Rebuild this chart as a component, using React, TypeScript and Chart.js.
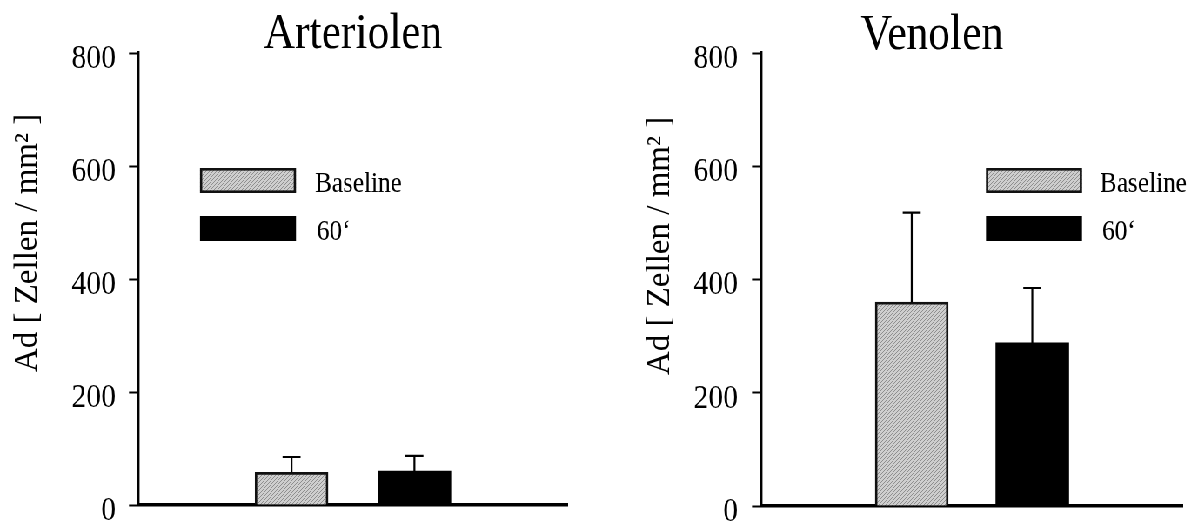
import React, { useEffect, useRef } from "react";
import { Chart, registerables } from "chart.js";

Chart.register(...registerables);

// ---- data ----
const seriesNames = ["Baseline", "60\u2018"];
const barPositions = [1, 2];
const arteriolenMean = [58, 60];
const arteriolenErr = [27, 27];
const venolenMean = [360, 288];
const venolenErr = [158, 97];
const yTickValues = [0, 200, 400, 600, 800];
const panelTitles = ["Arteriolen", "Venolen"];
const yAxisTitle = "Ad [ Zellen / mm\u00B2 ]";

const FONT = "'Liberation Serif', 'Times New Roman', serif";

// the original figure is horizontally condensed; draw wide, then squeeze
const SQUEEZE = 0.87;
const PAGE_W = 1202;
const PAGE_H = 522;
const PANEL_W = Math.round(PAGE_W / 2 / SQUEEZE);
const px = (v: number) => v / SQUEEZE; // page x-distance -> internal x-distance

type PanelCfg = {
  title: string;
  titleShift: number; // page px
  titleBaseline: number;
  means: number[];
  errs: number[];
  pageOffset: number;
  axisLeft: number; // page px
  axisRight: number; // page px
  axisBottom: number; // page px
  labelRight: number; // page px (right edge of tick labels)
  yLabelX: number; // page px
  yLabelY: number;
  legendX: number; // page px
  legendTextX: number; // page px
};

function makePattern(ctx: CanvasRenderingContext2D): CanvasPattern | string {
  const c = document.createElement("canvas");
  c.width = 4;
  c.height = 4;
  const g = c.getContext("2d");
  if (!g) return "#bfbfbf";
  g.fillStyle = "#cecece";
  g.fillRect(0, 0, 4, 4);
  g.fillStyle = "#8e8e8e";
  for (let i = 0; i < 4; i++) g.fillRect(i, 3 - i, 1, 1);
  return ctx.createPattern(c, "repeat") || "#bfbfbf";
}

function Panel({ cfg }: { cfg: PanelCfg }) {
  const ref = useRef<HTMLCanvasElement | null>(null);
  useEffect(() => {
    const canvas = ref.current;
    if (!canvas) return;
    const ctx = canvas.getContext("2d");
    if (!ctx) return;
    const pattern = makePattern(ctx);
    const fills = [pattern, "#000000"];
    const off = px(cfg.pageOffset);
    const axisLeft = px(cfg.axisLeft) - off;
    const axisRight = px(cfg.axisRight) - off;
    const tickLen = px(9);
    const tickPad = axisLeft - tickLen - (px(cfg.labelRight) - off);

    const extras = {
      id: "extras",
      afterDatasetsDraw(chart: any) {
        const c = chart.ctx as CanvasRenderingContext2D;
        const yScale = chart.scales.y;
        c.save();
        c.strokeStyle = "#000";
        c.lineWidth = 2.2;
        chart.data.datasets.forEach((ds: any, i: number) => {
          const meta = chart.getDatasetMeta(i);
          meta.data.forEach((el: any, j: number) => {
            const top = ds.data[j].y + ds.errors[j];
            const yErr = yScale.getPixelForValue(top);
            const x = el.x;
            const hw = px(9);
            c.beginPath();
            c.moveTo(x, el.y);
            c.lineTo(x, yErr);
            c.moveTo(x - hw, yErr);
            c.lineTo(x + hw, yErr);
            c.stroke();
          });
        });
        c.restore();
      },
      afterDraw(chart: any) {
        const c = chart.ctx as CanvasRenderingContext2D;
        const area = chart.chartArea;

        // panel title
        c.save();
        c.font = `50px ${FONT}`;
        c.fillStyle = "#000";
        c.textAlign = "center";
        c.textBaseline = "alphabetic";
        c.fillText(cfg.title, (area.left + area.right) / 2 + px(cfg.titleShift), cfg.titleBaseline);
        c.restore();

        // y axis title (not condensed in the original)
        c.save();
        c.translate(px(cfg.yLabelX) - off, cfg.yLabelY);
        c.scale(1 / SQUEEZE, 1);
        c.rotate(-Math.PI / 2);
        c.font = `33px ${FONT}`;
        c.fillStyle = "#000";
        c.textAlign = "center";
        c.textBaseline = "middle";
        c.fillText(yAxisTitle, 0, 0);
        c.restore();

        // legend
        c.save();
        const bx = px(cfg.legendX) - off;
        const boxW = px(96);
        const boxH = 25;
        const rows = [168, 216];
        rows.forEach((y, i) => {
          c.fillStyle = fills[i] as any;
          c.fillRect(bx, y, boxW, boxH);
          if (i === 0) {
            c.strokeStyle = "#111";
            c.lineWidth = 2.6;
            c.strokeRect(bx + 1.3, y + 1.3, boxW - 2.6, boxH - 2.6);
          }
          c.fillStyle = "#000";
          c.font = `29px ${FONT}`;
          c.textAlign = "left";
          c.textBaseline = "alphabetic";
          c.fillText(seriesNames[i], px(cfg.legendTextX + (i === 1 ? 2 : 0)) - off, y + 24);
        });
        c.restore();
      },
    };

    const chart = new Chart(canvas, {
      type: "bar",
      data: {
        datasets: seriesNames.map((name, i) => ({
          label: name,
          data: [{ x: barPositions[i], y: cfg.means[i] }],
          errors: [cfg.errs[i]],
          backgroundColor: fills[i],
          borderColor: "#111",
          borderWidth: i === 0 ? 2.8 : 0,
          barThickness: px(73),
          grouped: false,
        })) as any,
      },
      options: {
        animation: false,
        responsive: false,
        devicePixelRatio: 1,
        layout: {
          padding: { left: 0, right: PANEL_W - axisRight, top: 53, bottom: PAGE_H - cfg.axisBottom },
        },
        plugins: {
          legend: { display: false },
          tooltip: { enabled: false },
          title: { display: false },
        },
        scales: {
          x: {
            type: "linear",
            min: 0,
            max: 3,
            grid: { display: false },
            ticks: { display: false },
            border: { display: true, width: 3.4, color: "#000" },
            afterFit: (s: any) => {
              s.height = 0;
            },
          },
          y: {
            type: "linear",
            min: 0,
            max: 800,
            afterBuildTicks: (s: any) => {
              s.ticks = yTickValues.map((v) => ({ value: v }));
            },
            grid: {
              display: true,
              drawOnChartArea: false,
              drawTicks: true,
              tickLength: tickLen,
              tickWidth: 2,
              tickColor: "#000",
            },
            border: { display: true, width: 3.4, color: "#000" },
            ticks: {
              color: "#000",
              padding: tickPad,
              labelOffset: 6,
              font: { family: FONT, size: 34 },
            },
            afterFit: (s: any) => {
              s.width = axisLeft;
              s.paddingTop = 0;
              s.paddingBottom = 0;
            },
          },
        },
      },
      plugins: [extras],
    } as any);
    return () => chart.destroy();
  }, [cfg]);
  return (
    <canvas
      ref={ref}
      width={PANEL_W}
      height={PAGE_H}
      style={{ display: "block", width: PANEL_W, height: PAGE_H }}
    />
  );
}

const leftCfg: PanelCfg = {
  title: panelTitles[0],
  titleShift: 0,
  titleBaseline: 48,
  means: arteriolenMean,
  errs: arteriolenErr,
  pageOffset: 0,
  axisLeft: 138,
  axisRight: 568,
  axisBottom: 505,
  labelRight: 116,
  yLabelX: 28,
  yLabelY: 243,
  legendX: 200,
  legendTextX: 315,
};

const rightCfg: PanelCfg = {
  title: panelTitles[1],
  titleShift: -40,
  titleBaseline: 49,
  means: venolenMean,
  errs: venolenErr,
  pageOffset: PANEL_W * SQUEEZE,
  axisLeft: 761,
  axisRight: 1183,
  axisBottom: 506,
  labelRight: 738,
  yLabelX: 660,
  yLabelY: 246,
  legendX: 986,
  legendTextX: 1100,
};

export default function App() {
  useEffect(() => {
    document.body.style.margin = "0";
    document.body.style.background = "#fff";
  }, []);
  return (
    <div style={{ width: PAGE_W, height: PAGE_H, overflow: "hidden", background: "#fff" }}>
      <div
        style={{
          display: "flex",
          width: PANEL_W * 2,
          height: PAGE_H,
          transform: `scaleX(${SQUEEZE})`,
          transformOrigin: "0 0",
        }}
      >
        <Panel cfg={leftCfg} />
        <Panel cfg={rightCfg} />
      </div>
    </div>
  );
}
